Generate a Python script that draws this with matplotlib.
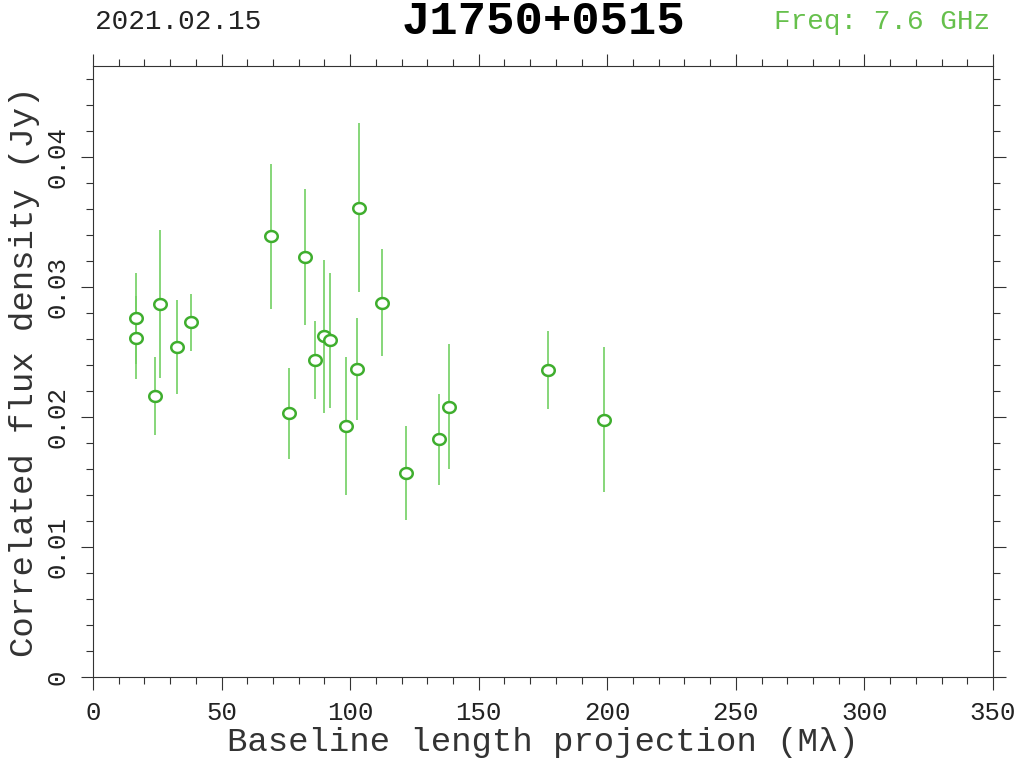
import numpy as np
import matplotlib
matplotlib.use("Agg")
import matplotlib.pyplot as plt
from matplotlib.path import Path
from matplotlib.ticker import MultipleLocator

# Baseline length projection (Mlambda) and correlated flux density (Jy)
baseline = [16.8, 16.8, 24.2, 26.1, 32.8, 38.1, 69.1, 76.3, 82.6, 86.3, 90.0,
            92.2, 98.3, 102.8, 103.4, 112.4, 121.9, 134.7, 138.4, 177.1, 198.6]
flux = [0.0276, 0.0261, 0.0216, 0.0287, 0.0254, 0.0273, 0.0339, 0.0203, 0.0323,
        0.0244, 0.0262, 0.0259, 0.0193, 0.0237, 0.0361, 0.0288, 0.0157, 0.0183,
        0.0208, 0.0236, 0.0198]
flux_err = [0.0035, 0.0032, 0.0030, 0.0057, 0.0036, 0.0022, 0.0056, 0.0035, 0.0052,
            0.0030, 0.0059, 0.0052, 0.0053, 0.0039, 0.0065, 0.0041, 0.0036, 0.0035,
            0.0048, 0.0030, 0.0056]

DATE = "2021.02.15"
SOURCE = "J1750+0515"
FREQ = "Freq: 7.6 GHz"

plt.rcParams['font.family'] = ['Liberation Mono', 'DejaVu Sans']

MARK = '#3fae2e'
BAR = '#72cf62'
AXC = '#333333'

# slightly flattened open circle, like the original plot symbol
t = np.linspace(0, 2 * np.pi, 60)
ellipse = Path(np.column_stack([1.15 * np.cos(t), np.sin(t)]), closed=True)

fig = plt.figure(figsize=(10.24, 7.67), dpi=100)
ax = fig.add_axes([93 / 1024, 1 - 677 / 767, 900 / 1024, 611 / 767])

ax.errorbar(baseline, flux, yerr=flux_err, fmt='none', ecolor=BAR,
            elinewidth=1.2, capsize=0, zorder=2)
ax.plot(baseline, flux, linestyle='none', marker=ellipse, ms=9,
        mfc='white', mec=MARK, mew=1.8, zorder=3)

ax.set_xlim(0, 350)
ax.set_ylim(0, 0.047)
ax.xaxis.set_major_locator(MultipleLocator(50))
ax.xaxis.set_minor_locator(MultipleLocator(10))
ax.yaxis.set_minor_locator(MultipleLocator(0.002))
ax.set_yticks([0, 0.01, 0.02, 0.03, 0.04])
ax.set_yticklabels(['0', '0.01', '0.02', '0.03', '0.04'])

ax.tick_params(which='both', direction='out', top=True, right=True,
               colors=AXC, width=0.8, labelcolor='#222222')
ax.tick_params(which='major', length=9, labelsize=18.5, pad=8)
ax.tick_params(which='minor', length=5)
for lab in ax.get_yticklabels():
    lab.set_rotation(90)
    lab.set_va('center')
for s in ax.spines.values():
    s.set_color(AXC)
    s.set_linewidth(0.8)

ax.set_xlabel('Baseline length projection (M\u03bb)', fontsize=24.5, color='#333333', labelpad=2)
ax.set_ylabel('Correlated flux density (Jy)', fontsize=24.5, color='#333333', labelpad=4)

fig.text(95 / 1024, 1 - 22 / 767, DATE, fontsize=20, color='#222222', ha='left', va='center')
fig.text(543 / 1024, 1 - 22 / 767, SOURCE, fontsize=34, fontweight='bold', color='black',
         ha='center', va='center')
fig.text(990 / 1024, 1 - 22 / 767, FREQ, fontsize=20, color='#66c04c', ha='right', va='center')

fig.savefig('out.png', dpi=100)
